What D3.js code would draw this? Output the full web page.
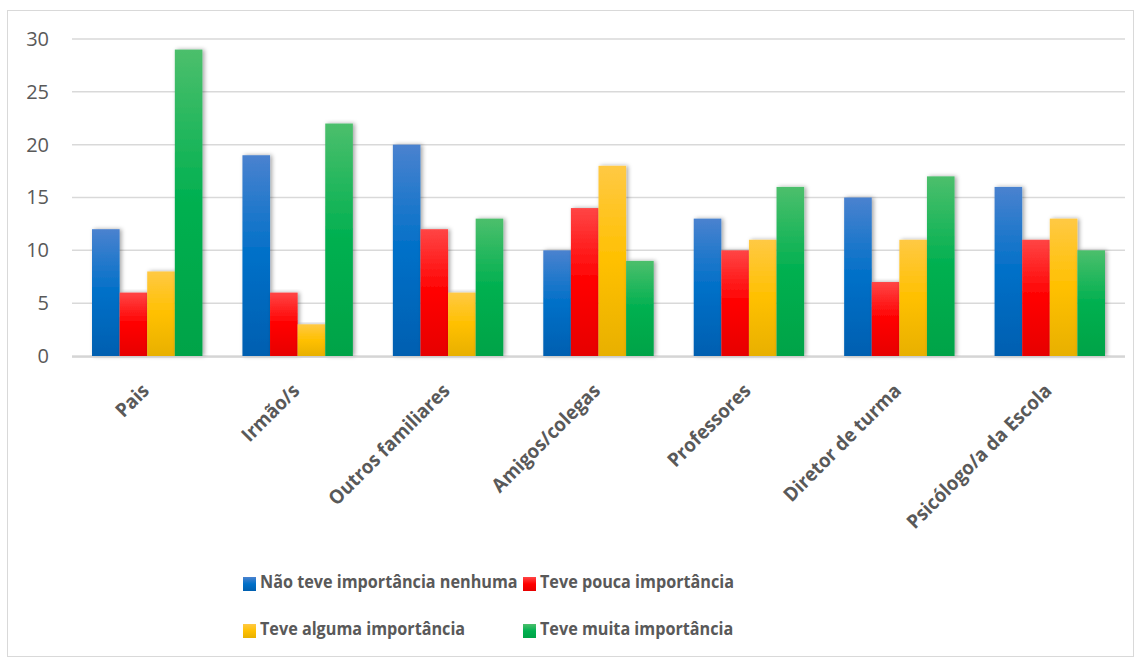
<!DOCTYPE html>
<html>
<head>
<meta charset="utf-8">
<script src="https://cdn.jsdelivr.net/npm/d3@7"></script>
<style>
  body { margin: 0; background: #fff; }
  text { font-family: "Open Sans", "DejaVu Sans", sans-serif; fill: #595959; }
</style>
</head>
<body>
<svg id="chart" width="1141" height="657"></svg>
<script>
// data
var categories = ["Pais", "Irmão/s", "Outros familiares", "Amigos/colegas", "Professores", "Diretor de turma", "Psicólogo/a da Escola"];
var seriesNames = ["Não teve importância nenhuma", "Teve pouca importância", "Teve alguma importância", "Teve muita importância"];
var nenhuma = [12, 19, 20, 10, 13, 15, 16];
var pouca = [6, 6, 12, 14, 10, 7, 11];
var alguma = [8, 3, 6, 18, 11, 11, 13];
var muita = [29, 22, 13, 9, 16, 17, 10];
var yTicks = [0, 5, 10, 15, 20, 25, 30];

var series = [nenhuma, pouca, alguma, muita];
// gradient stops: top, middle, bottom
var colors = [
  ["#4a82cf", "#0070c8", "#005fb0"],
  ["#ff4545", "#ff0000", "#e60000"],
  ["#ffc944", "#ffc000", "#e8b000"],
  ["#4cbf6c", "#00b050", "#00a347"]
];

var svg = d3.select("#chart");
var defs = svg.append("defs");

colors.forEach(function (c, i) {
  var g = defs.append("linearGradient").attr("id", "grad" + i)
    .attr("x1", 0).attr("y1", 0).attr("x2", 0).attr("y2", 1);
  g.append("stop").attr("offset", "0%").attr("stop-color", c[0]);
  g.append("stop").attr("offset", "50%").attr("stop-color", c[1]);
  g.append("stop").attr("offset", "100%").attr("stop-color", c[2]);
});

var shadow = defs.append("filter").attr("id", "shadow")
  .attr("x", "-20%").attr("y", "-5%").attr("width", "160%").attr("height", "110%");
shadow.append("feDropShadow").attr("dx", 2).attr("dy", 0).attr("stdDeviation", 2.2)
  .attr("flood-color", "#000").attr("flood-opacity", 0.35);

// chart frame
svg.append("rect").attr("x", 7.5).attr("y", 10.5).attr("width", 1126).attr("height", 646)
  .attr("fill", "none").attr("stroke", "#d9d9d9").attr("stroke-width", 1);

var plotLeft = 72, plotRight = 1125, plotTop = 39, plotBottom = 356;

var x0 = d3.scaleBand().domain(categories).range([plotLeft, plotRight])
  .paddingInner(0.266).paddingOuter(0.133);
var x1 = d3.scaleBand().domain(d3.range(4)).range([0, x0.bandwidth()]);
var y = d3.scaleLinear().domain([0, 30]).range([plotBottom, plotTop]);

// gridlines
svg.append("g").selectAll("line").data(yTicks).join("line")
  .attr("x1", plotLeft).attr("x2", plotRight)
  .attr("y1", function (d) { return y(d); }).attr("y2", function (d) { return y(d); })
  .attr("stroke", "#d9d9d9").attr("stroke-width", 1.5);

// y axis labels
var yAxis = d3.axisLeft(y).tickValues(yTicks).tickSize(0).tickPadding(0);
var ya = svg.append("g").attr("transform", "translate(49,0)").call(yAxis);
ya.select(".domain").remove();
ya.selectAll("text").attr("font-size", 20).style("fill", "#595959")
  .style("font-family", "'Open Sans', sans-serif");

// bars
var groups = svg.append("g").selectAll("g").data(categories).join("g")
  .attr("transform", function (d) { return "translate(" + x0(d) + ",0)"; });

groups.each(function (cat, ci) {
  var g = d3.select(this);
  d3.range(4).forEach(function (si) {
    var v = series[si][ci];
    g.append("rect")
      .attr("x", x1(si))
      .attr("y", y(v))
      .attr("width", x1.bandwidth())
      .attr("height", y(0) - y(v))
      .attr("fill", "url(#grad" + si + ")")
      .attr("filter", "url(#shadow)");
  });
});

// baseline
svg.append("line").attr("x1", plotLeft).attr("x2", plotRight)
  .attr("y1", plotBottom + 1).attr("y2", plotBottom + 1)
  .attr("stroke", "#d0d0d0").attr("stroke-width", 1.5);

// category labels
svg.append("g").selectAll("text").data(categories).join("text")
  .attr("text-anchor", "end")
  .attr("font-size", 19.5).attr("font-weight", "bold")
  .attr("transform", function (d) {
    return "translate(" + (x0(d) + x0.bandwidth() / 2 + 3) + ",392) rotate(-45) scale(0.95,1)";
  })
  .text(function (d) { return d; });

// legend
var legendPos = [[243, 584], [523, 584], [243, 631], [523, 631]];
var legend = svg.append("g").selectAll("g").data(seriesNames).join("g")
  .attr("transform", function (d, i) { return "translate(" + legendPos[i][0] + "," + legendPos[i][1] + ")"; });
legend.append("rect").attr("x", 0).attr("y", -7).attr("width", 13).attr("height", 14)
  .attr("fill", function (d, i) { return "url(#grad" + i + ")"; });
legend.append("text")
  .attr("transform", "translate(17,4) scale(0.875,1)")
  .attr("font-size", 18.5).attr("font-weight", "bold")
  .text(function (d) { return d; });
</script>
</body>
</html>
